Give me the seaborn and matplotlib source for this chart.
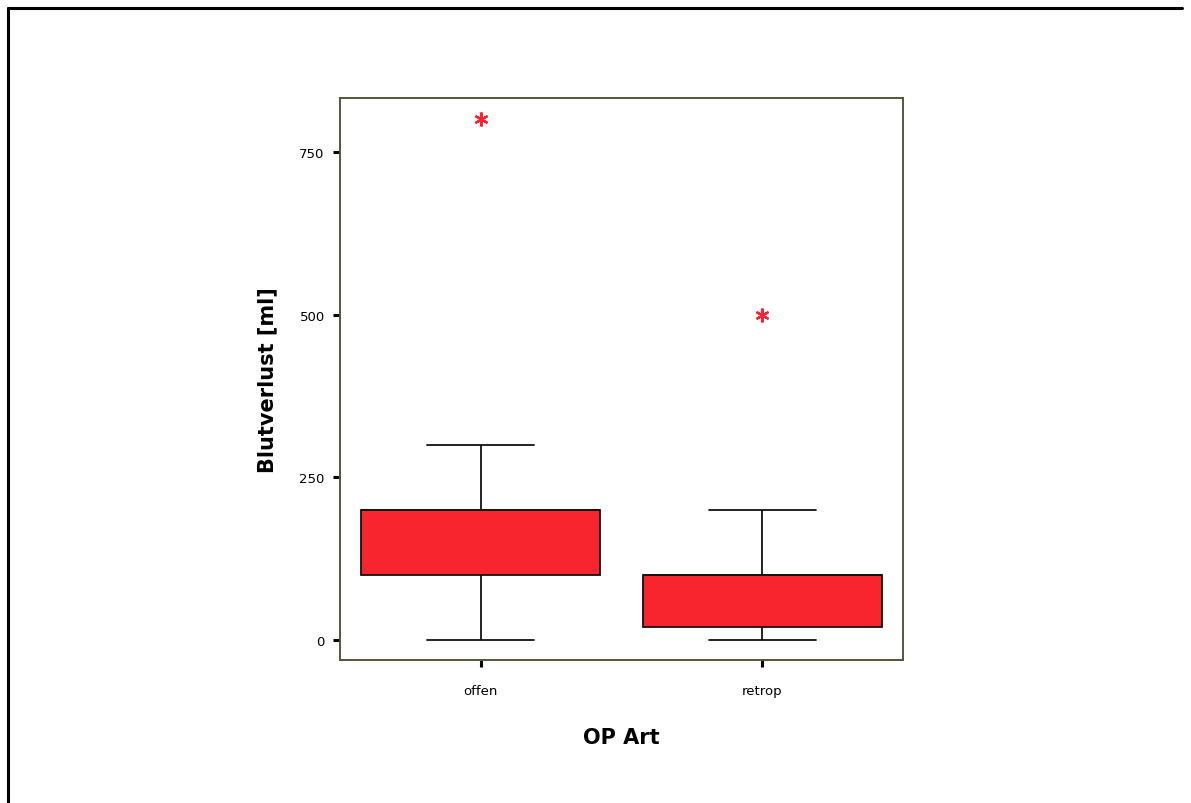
import numpy as np
import pandas as pd
import seaborn as sns
import matplotlib.pyplot as plt
from matplotlib.lines import Line2D

# Blood loss per surgery type (ml)
offen_ml = [0, 100, 100, 150, 200, 200, 200, 300, 800]
retrop_ml = [0, 20, 20, 50, 100, 100, 100, 200, 500]
categories = ["offen", "retrop"]
y_ticks = [0, 250, 500, 750]

df = pd.DataFrame({
    "OP Art": [categories[0]] * len(offen_ml) + [categories[1]] * len(retrop_ml),
    "Blutverlust": offen_ml + retrop_ml,
})

sns.set_theme(style="white")
plt.rcParams["font.family"] = ["DejaVu Sans"]
plt.rcParams["text.color"] = "black"
plt.rcParams["axes.labelcolor"] = "black"
plt.rcParams["xtick.color"] = "black"
plt.rcParams["ytick.color"] = "black"

fig = plt.figure(figsize=(11.91, 8.04), dpi=100)
ax = fig.add_axes([340 / 1191, 1 - 661 / 804, 563 / 1191, 562 / 804])

box_red = "#F8252E"
sns.boxplot(
    data=df, x="OP Art", y="Blutverlust", order=categories,
    width=0.85, color=box_red, saturation=1, linecolor="#111111",
    linewidth=1.3, whis=1.5, ax=ax,
    boxprops=dict(facecolor=box_red, edgecolor="#111111"),
    flierprops=dict(marker=(6, 2, 0), markersize=10, markeredgecolor="#FF2030",
                    markerfacecolor="#FF2030", markeredgewidth=1.6),
    capwidths=0.38,
)

ax.set_xlim(-0.5, 1.5)
ax.set_ylim(-30.7, 833)
ax.set_yticks(y_ticks)
ax.set_yticklabels([str(v) for v in y_ticks], fontsize=9.5)
ax.set_xticks([0, 1])
ax.set_xticklabels(categories, fontsize=9.5)
ax.tick_params(axis="both", which="both", direction="out", length=5, width=2.2,
               color="black", labelcolor="black", left=True, bottom=True)
ax.tick_params(axis="x", pad=12)
ax.tick_params(axis="y", pad=6)

ax.set_xlabel("OP Art", fontsize=15, fontweight="bold", labelpad=22)
ax.set_ylabel("Blutverlust [ml]", fontsize=15, fontweight="bold", labelpad=16)

for side, spine in ax.spines.items():
    spine.set_visible(True)
    spine.set_color("#55553A")
    spine.set_linewidth(1.4)
    spine.set_linestyle((0, (2, 1)))

# frame lines along the top and left edges of the figure
fig.add_artist(Line2D([8 / 1191, 1182 / 1191], [1 - 9 / 804, 1 - 9 / 804],
                      color="black", linewidth=2.2, transform=fig.transFigure))
fig.add_artist(Line2D([8 / 1191, 8 / 1191], [1 - 9 / 804, 0],
                      color="black", linewidth=2.2, transform=fig.transFigure))

fig.savefig("out.png", dpi=100)
